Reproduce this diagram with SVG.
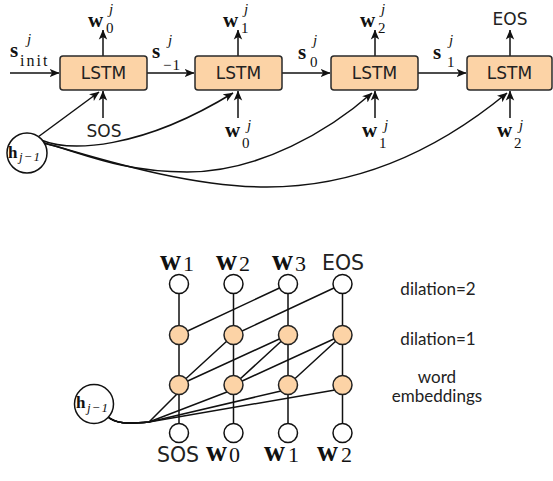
<svg xmlns="http://www.w3.org/2000/svg" width="553" height="481" viewBox="0 0 553 481">
<defs>
<style>
.box{fill:#fcd3a6;stroke:#2a2a2a;stroke-width:1.5}
.ln{fill:none;stroke:#111;stroke-width:1.5}
.ar{fill:none;stroke:#111;stroke-width:1.5;marker-end:url(#ah)}
.lbl{font-family:"DejaVu Sans",sans-serif;fill:#222}
.mb{font-family:"Liberation Serif",serif;font-weight:bold;font-size:21px;fill:#111}
.sub{font-family:"Liberation Serif",serif;font-size:15px;fill:#111}
.sj{font-family:"Liberation Serif",serif;font-style:italic;font-size:15px;fill:#111}
.bb{font-family:"Liberation Serif",serif;font-weight:bold;font-size:29px;fill:#111}
.bs{font-family:"Liberation Serif",serif;font-size:22px;fill:#111}
.wc{fill:#fff;stroke:#111;stroke-width:1.5}
.oc{fill:#fcd3a6;stroke:#222;stroke-width:1.5}
.side{font-family:Lato,"Open Sans",sans-serif;font-size:17px;fill:#222;text-anchor:middle}
</style>
<marker id="ah" viewBox="0 0 10 10" refX="9.5" refY="5" markerWidth="10" markerHeight="10" markerUnits="userSpaceOnUse" orient="auto">
<path d="M0,0.8 L10,5 L0,9.2 L2.6,5 z" fill="#111"/>
</marker>
</defs>

<g id="connectors-top">
<path class="ar" d="M10,73 L59,73"/>
<path class="ar" d="M147,73 L194,73"/>
<path class="ar" d="M282,73 L330,73"/>
<path class="ar" d="M418,73 L466,73"/>
<path class="ar" d="M103,56 L103,30"/>
<path class="ar" d="M238,56 L238,30"/>
<path class="ar" d="M375,56 L375,30"/>
<path class="ar" d="M510,56 L510,30"/>
<path class="ar" d="M103,118 L103,91"/>
<path class="ar" d="M238,118 L238,91"/>
<path class="ar" d="M375,118 L375,91"/>
<path class="ar" d="M510,118 L510,91"/>
<path class="ar" d="M38,137 L99,92"/>
<path class="ar" d="M41,140 C70,152 140,150 233,93"/>
<path class="ar" d="M44,143 C80,152 120,172 187,172 C260,172 330,130 372,93"/>
<path class="ar" d="M44,143 C80,152 180,187 267,187 C370,187 450,140 507,93"/>
</g>

<g id="lstm1"><rect class="box" x="60" y="56" width="87" height="34" rx="3"/><text class="lbl" x="103.5" y="79" font-size="17" text-anchor="middle">LSTM</text></g>
<g id="lstm2"><rect class="box" x="195" y="56" width="87" height="34" rx="3"/><text class="lbl" x="238.5" y="79" font-size="17" text-anchor="middle">LSTM</text></g>
<g id="lstm3"><rect class="box" x="331" y="56" width="87" height="34" rx="3"/><text class="lbl" x="374.5" y="79" font-size="17" text-anchor="middle">LSTM</text></g>
<g id="lstm4"><rect class="box" x="467" y="56" width="85" height="34" rx="3"/><text class="lbl" x="509.5" y="79" font-size="17" text-anchor="middle">LSTM</text></g>

<g id="h-top">
<circle class="wc" cx="27" cy="153" r="20"/>
<text class="mb" x="8" y="158" style="font-size:17px">h</text>
<text class="sj" x="19" y="161" style="font-size:13px;letter-spacing:1px">j−1</text>
</g>

<g id="labels-top">
<text class="mb" x="10" y="57">s</text><text class="sj" x="27" y="44">j</text><text class="sub" x="20" y="66" style="font-size:16px;letter-spacing:2px">init</text>
<text class="mb" x="152" y="58">s</text><text class="sj" x="168" y="45">j</text><text class="sub" x="163" y="70" style="letter-spacing:1px">−1</text>
<text class="mb" x="298" y="59">s</text><text class="sj" x="313" y="45">j</text><text class="sub" x="310" y="67">0</text>
<text class="mb" x="433" y="59">s</text><text class="sj" x="449" y="45">j</text><text class="sub" x="447" y="67">1</text>

<text class="mb" x="88" y="27">w</text><text class="sj" x="109" y="14">j</text><text class="sub" x="106" y="33">0</text>
<text class="mb" x="223" y="27">w</text><text class="sj" x="244" y="14">j</text><text class="sub" x="241" y="33">1</text>
<text class="mb" x="360" y="27">w</text><text class="sj" x="381" y="14">j</text><text class="sub" x="378" y="33">2</text>
<text class="lbl" x="510" y="25" font-size="17" text-anchor="middle">EOS</text>

<text class="lbl" x="104" y="137" font-size="17" text-anchor="middle">SOS</text>
<text class="mb" x="225" y="137">w</text><text class="sj" x="247" y="130">j</text><text class="sub" x="242" y="148">0</text>
<text class="mb" x="362" y="137">w</text><text class="sj" x="384" y="130">j</text><text class="sub" x="379" y="148">1</text>
<text class="mb" x="497" y="137">w</text><text class="sj" x="519" y="130">j</text><text class="sub" x="514" y="148">2</text>
</g>

<g id="connectors-bottom">
<path class="ln" d="M179,284 V433 M233.5,284 V433 M288,284 V433 M342.5,284 V433"/>
<path class="ln" d="M179,335 L288,284 M233.5,335 L342.5,284"/>
<path class="ln" d="M179,385 L233.5,335 M179,385 L288,335 M233.5,385 L288,335 M233.5,385 L342.5,335 M288,385 L342.5,335"/>
<path class="ln" d="M107,416 C115,424 128,424 149,422 L177,394"/>
<path class="ln" d="M107,416 C115,424 128,424 149,422 L227,392"/>
<path class="ln" d="M107,416 C115,424 128,424 149,422 L281,391"/>
<path class="ln" d="M107,416 C115,424 128,424 149,422 L335,390"/>
</g>

<g id="layer-out">
<circle class="wc" cx="179" cy="284" r="9.5"/><circle class="wc" cx="233.5" cy="284" r="9.5"/><circle class="wc" cx="288" cy="284" r="9.5"/><circle class="wc" cx="342.5" cy="284" r="9.5"/>
</g>
<g id="layer-d2">
<circle class="oc" cx="179" cy="335" r="9.5"/><circle class="oc" cx="233.5" cy="335" r="9.5"/><circle class="oc" cx="288" cy="335" r="9.5"/><circle class="oc" cx="342.5" cy="335" r="9.5"/>
</g>
<g id="layer-d1">
<circle class="oc" cx="179" cy="385" r="9.5"/><circle class="oc" cx="233.5" cy="385" r="9.5"/><circle class="oc" cx="288" cy="385" r="9.5"/><circle class="oc" cx="342.5" cy="385" r="9.5"/>
</g>
<g id="layer-in">
<circle class="wc" cx="179" cy="433" r="9.5"/><circle class="wc" cx="233.5" cy="433" r="9.5"/><circle class="wc" cx="288" cy="433" r="9.5"/><circle class="wc" cx="342.5" cy="433" r="9.5"/>
</g>

<g id="h-bottom">
<circle class="wc" cx="94" cy="404" r="19.5"/>
<text class="mb" x="76" y="408" style="font-size:17px">h</text>
<text class="sj" x="87" y="412" style="font-size:13px;letter-spacing:1px">j−1</text>
</g>

<g id="labels-bottom">
<text class="bb" x="160" y="270">w</text><text class="bs" x="183" y="271">1</text>
<text class="bb" x="216" y="270">w</text><text class="bs" x="239" y="271">2</text>
<text class="bb" x="272" y="270">w</text><text class="bs" x="295" y="271">3</text>
<text class="lbl" x="343" y="270" font-size="20.5" text-anchor="middle">EOS</text>
<text class="lbl" x="178" y="462" font-size="20.5" text-anchor="middle">SOS</text>
<text class="bb" x="206" y="461">w</text><text class="bs" x="229" y="462">0</text>
<text class="bb" x="264" y="461">w</text><text class="bs" x="288" y="462">1</text>
<text class="bb" x="317" y="461">w</text><text class="bs" x="341" y="462">2</text>
<text class="side" x="438" y="295">dilation=2</text>
<text class="side" x="438" y="345">dilation=1</text>
<text class="side" x="437" y="383">word</text>
<text class="side" x="437" y="402">embeddings</text>
</g>
</svg>
